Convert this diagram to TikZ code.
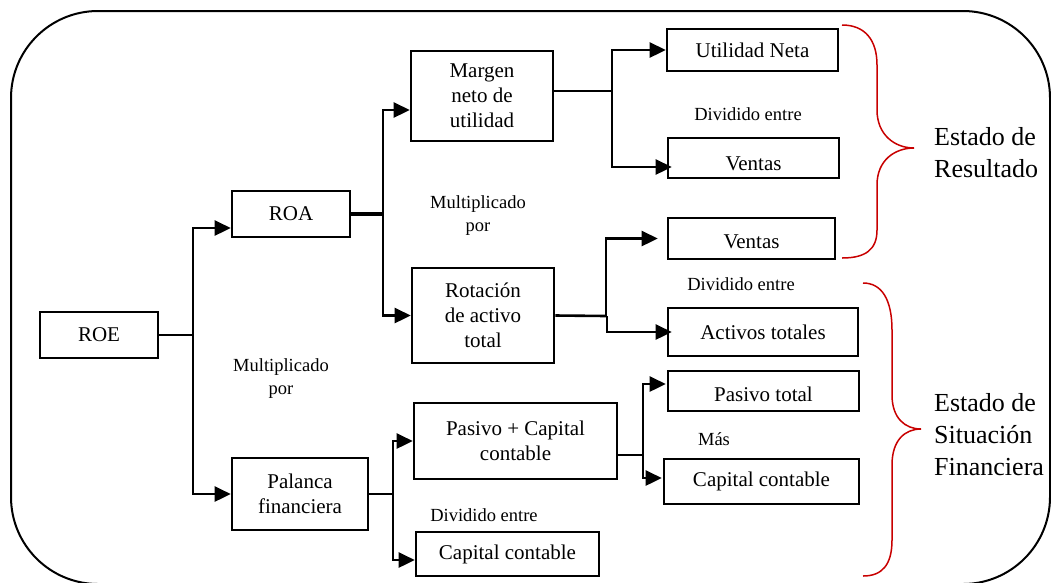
\documentclass[tikz,border=0pt]{standalone}
\usepackage{fontspec}
\setmainfont{Liberation Serif}
\usetikzlibrary{arrows.meta}
\definecolor{bracered}{RGB}{200,0,0}
\tikzset{
  box/.style={draw, line width=2.6pt, inner sep=0pt, align=center, font=\fontsize{21}{25}\selectfont},
  lbl/.style={inner sep=0pt, align=center, font=\fontsize{18.5}{23}\selectfont},
  big/.style={inner sep=0pt, align=left, anchor=west, font=\fontsize{26}{32}\selectfont},
  conn/.style={line width=2.6pt},
  arr/.style={line width=2.6pt, -{Triangle[length=16pt,width=15pt]}},
  brace/.style={draw=bracered, line width=1.5pt},
  frame/.style={draw, line width=2pt, rounded corners=87pt}
}
\begin{document}
\begin{tikzpicture}[x=1pt,y=-1pt]
\useasboundingbox (0,0) rectangle (1051,582);
\draw[frame] (11,11) rectangle (1050,584);

% boxes
\node[box, minimum width=118pt, minimum height=46pt] (roe) at (99,335) {ROE};
\node[box, minimum width=118pt, minimum height=46pt] (roa) at (291,214) {ROA};
\node[box, minimum width=136pt, minimum height=72pt] (pal) at (300,494) {Palanca\\financiera};
\node[box, minimum width=142pt, minimum height=90pt] (mar) at (482,96) {Margen\\neto de\\utilidad};
\node[box, minimum width=142pt, minimum height=95pt] (rot) at (483,315.5) {Rotación\\de activo\\total};
\node[box, minimum width=171pt, minimum height=42pt] (un) at (752.5,50) {Utilidad Neta};
\node[box, minimum width=171pt, minimum height=40pt, text height=24pt, text depth=0pt] (v1) at (753.5,158) {Ventas};
\node[box, minimum width=167pt, minimum height=41pt, text height=20pt, text depth=0pt] (v2) at (751.5,238.5) {Ventas};
\node[box, minimum width=190pt, minimum height=48pt] (act) at (763,332) {Activos totales};
\node[box, minimum width=191pt, minimum height=40pt, text height=20pt, text depth=0pt] (pt) at (763.5,391) {Pasivo total};
\node[box, minimum width=195pt, minimum height=45pt] (cc1) at (761.5,481.5) {Capital contable};
\node[box, minimum width=203pt, minimum height=76pt] (pc) at (515.5,441) {Pasivo + Capital\\contable};
\node[box, minimum width=183pt, minimum height=44pt] (cc2) at (507.5,554) {Capital contable};

% labels
\node[lbl] (m1) at (478,215.5) {Multiplicado\\por};
\node[lbl] (m2) at (281,378.5) {Multiplicado\\por};
\node[lbl] (d1) at (748,114) {Dividido entre};
\node[lbl] (d2) at (741,284) {Dividido entre};
\node[lbl] (d3) at (484,515) {Dividido entre};
\node[lbl] (mas) at (714,439) {Más};

% junctions
\coordinate (j1) at (193,335);
\coordinate (j2) at (383,214);
\coordinate (j3) at (612,91);
\coordinate (j4) at (606,316);
\coordinate (j4b) at (607,316);
\coordinate (j5) at (393,494);
\coordinate (j6) at (643,455);

% ROE
\draw[conn] (roe.east) -- (j1);
\draw[arr] (j1) |- ([yshift=-14pt]roa.west);
\draw[arr] (j1) |- (pal.west);
% ROA
\draw[line width=4pt] (roa.east) -- (j2);
\draw[arr] (j2) |- ([yshift=-14pt]mar.west);
\draw[arr] (j2) |- (rot.west);
% Margen
\draw[conn] ([yshift=5pt]mar.east) -- (j3);
\draw[arr] (j3) |- (un.west);
\draw[arr] (j3) |- ([xshift=5pt,yshift=-9pt]v1.west);
% Rotacion
\draw[conn] (rot.east) -- (j4);
\draw[arr] (j4) |- ([xshift=-9pt]v2.west);
\draw[arr] (j4b) |- ([xshift=5pt]act.west);
% Palanca
\draw[conn] (pal.east) -- (j5);
\draw[arr] (j5) |- (pc.west);
\draw[arr] (j5) |- ([yshift=-6pt]cc2.west);
% Pasivo + Capital
\draw[conn] ([yshift=-14pt]pc.east) -- (j6);
\draw[arr] (j6) |- ([xshift=-1pt,yshift=7pt]pt.west);
\draw[arr] (j6) |- ([xshift=-1pt,yshift=3.5pt]cc1.west);

% braces
\draw[brace] (842,25) .. controls (865,25) and (877,40) .. (877,65) -- (877,110)
  .. controls (877,135) and (895,148) .. (914,148)
  .. controls (895,148) and (877,160) .. (877,185) -- (877,230)
  .. controls (877,250) and (865,258) .. (842,258);
\draw[brace] (863,283) .. controls (882,283) and (892,300) .. (892,330) -- (892,395)
  .. controls (892,418) and (905,429) .. (921,429)
  .. controls (905,429) and (892,440) .. (892,465) -- (892,540)
  .. controls (892,565) and (882,576) .. (863,576);

\node[big] (er) at (934,152.5) {Estado de\\Resultado};
\node[big] (esf) at (934,434.5) {Estado de\\Situación\\Financiera};
\end{tikzpicture}
\end{document}
